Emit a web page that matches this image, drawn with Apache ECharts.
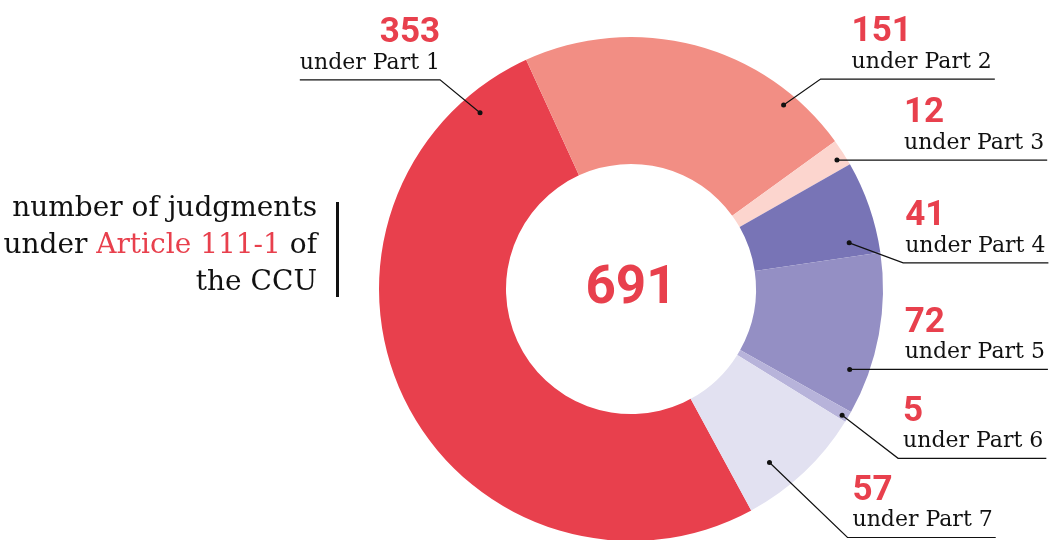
<!DOCTYPE html>
<html>
<head>
<meta charset="utf-8">
<script src="https://cdn.jsdelivr.net/npm/echarts@6.0.0/dist/echarts.min.js"></script>
<style>
  html, body { margin: 0; padding: 0; background: #fff; }
  #chart { width: 1051px; height: 540px; }
</style>
</head>
<body>
<div id="chart"></div>
<script>
  const parts = ['under Part 1', 'under Part 2', 'under Part 3', 'under Part 4', 'under Part 5', 'under Part 6', 'under Part 7'];
  const judgments = [353, 151, 12, 41, 72, 5, 57];

  const total = judgments.reduce((a, b) => a + b, 0);

  const cx = 631, cy = 289;
  const startAngle = 298.5;

  // leader for each slice: where the dot sits (share of the arc, radius px),
  // the bend relative to the dot, and the gap between bend and text
  const leaders = [
    { at: 0.913, r: 232, bend: [-40, -33], gap: 0 },
    { at: 0.817, r: 239, bend: [37, -26], gap: 31 },
    { at: 0.62, r: 243, bend: [0, 0], gap: 67 },
    { at: 0.83, r: 223, bend: [54, 20], gap: 2 },
    { at: 0.76, r: 233, bend: [0, 0], gap: 55 },
    { at: 0.65, r: 246, bend: [56, 43], gap: 5 },
    { at: 0.66, r: 222, bend: [78, 75], gap: 5 }
  ];

  function dotPos(i) {
    let before = 0;
    for (let k = 0; k < i; k++) before += judgments[k];
    const deg = startAngle - (before + judgments[i] * leaders[i].at) / total * 360;
    const rad = deg * Math.PI / 180;
    return [cx + leaders[i].r * Math.cos(rad), cy - leaders[i].r * Math.sin(rad)];
  }

  const chart = echarts.init(document.getElementById('chart'));

  const option = {
    animation: false,
    color: ['#E8404D', '#F28E84', '#FCD5CE', '#7874B6', '#948FC4', '#B7B3DA', '#E2E1F1'],
    graphic: [
      {
        type: 'text', x: cx, y: 289.5,
        style: {
          text: String(total), font: 'bold 53px Roboto', fill: '#E8404D',
          align: 'center', verticalAlign: 'middle'
        }
      },
      {
        type: 'text', x: 317, y: 246,
        style: {
          text: 'number of judgments\nunder {a|Article 111-1} of\nthe CCU',
          font: '28px "DejaVu Serif"', fill: '#111', lineHeight: 37,
          align: 'right', verticalAlign: 'middle',
          rich: {
            a: { fill: '#E8404D', fontSize: 28, fontFamily: 'DejaVu Serif', lineHeight: 37 }
          }
        }
      },
      {
        type: 'rect', shape: { x: 336, y: 202, width: 3, height: 95 },
        style: { fill: '#111' }
      }
    ],
    series: [
      {
        // the slices, with a dot where each leader starts
        type: 'pie',
        z: 2,
        center: [cx, cy],
        radius: [125, 252],
        startAngle: startAngle,
        clockwise: true,
        avoidLabelOverlap: false,
        silent: true,
        data: judgments.map((v, i) => ({ name: parts[i], value: v })),
        label: {
          show: true,
          position: 'inside',
          formatter: '{d| }',
          rich: { d: { width: 5, height: 5, borderRadius: 2.5, backgroundColor: '#111', fontSize: 1 } }
        },
        labelLine: { show: false },
        labelLayout: function (p) {
          const d = dotPos(p.dataIndex);
          return { x: d[0], y: d[1], align: 'center', verticalAlign: 'middle' };
        }
      },
      {
        // transparent copy on top carrying the leaders and the labels
        type: 'pie',
        z: 3,
        center: [cx, cy],
        radius: [125, 252],
        startAngle: startAngle,
        clockwise: true,
        avoidLabelOverlap: false,
        silent: true,
        data: judgments.map((v, i) => ({ name: parts[i], value: v })),
        itemStyle: { color: 'rgba(0,0,0,0)' },
        label: {
          show: true,
          position: 'outside',
          overflow: 'none',
          formatter: p => '{n|' + p.value + '}\n{t|' + p.name + '}',
          rich: {
            n: { fontFamily: 'Roboto', fontWeight: 'bold', fontSize: 35, color: '#E8404D', lineHeight: 33 },
            t: { fontFamily: 'DejaVu Serif', fontSize: 22, color: '#111', lineHeight: 26 }
          }
        },
        labelLine: {
          show: true, showAbove: true, length: 10, length2: 10,
          lineStyle: { color: '#111', width: 1.2 }
        },
        labelLayout: function (p) {
          const i = p.dataIndex, L = leaders[i];
          const d = dotPos(i);
          const b = [d[0] + L.bend[0], d[1] + L.bend[1]];
          const w = p.labelRect.width;
          if (b[0] < cx) {
            return {
              x: b[0] - L.gap, y: b[1] - 4, align: 'right', verticalAlign: 'bottom',
              labelLinePoints: [d, b, [b[0] - L.gap - w, b[1]]]
            };
          }
          return {
            x: b[0] + L.gap, y: b[1] - 4, align: 'left', verticalAlign: 'bottom',
            labelLinePoints: [d, b, [b[0] + L.gap + w + 3, b[1]]]
          };
        }
      }
    ]
  };

  chart.setOption(option);
</script>
</body>
</html>
